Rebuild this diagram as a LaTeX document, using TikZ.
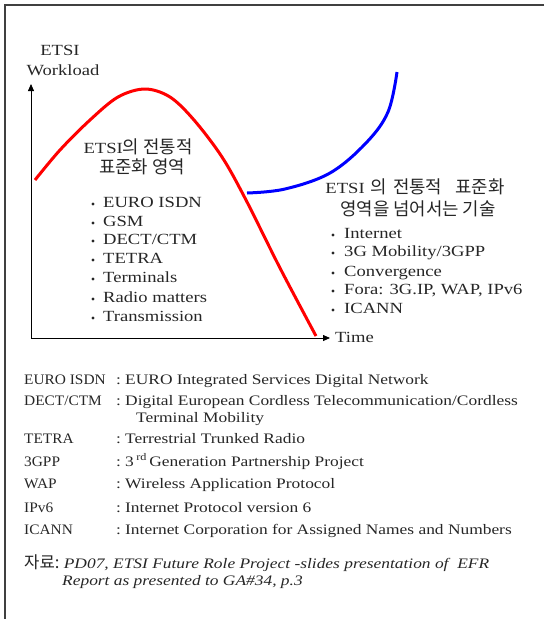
\documentclass[tikz,border=0pt]{standalone}
\usepackage{fontspec}
\setmainfont{Liberation Serif}[FakeStretch=1.2]
\newfontfamily\capsf{Liberation Serif}[FakeStretch=1.06]
\newfontfamily\kr{Noto Sans CJK KR}[Scale=1.15]
\usetikzlibrary{arrows.meta}
\newcommand{\kor}[1]{{\kr #1}}
\begin{document}
\begin{tikzpicture}[x=1pt,y=-1pt,
  txt/.style={inner sep=0pt, text=black!85, font=\fontsize{15.5}{18}\selectfont},
  legtxt/.style={inner sep=0pt, anchor=base west, text=black!85, font=\fontsize{14.5}{17}\selectfont},
  legabbr/.style={legtxt, font=\fontsize{14.5}{17}\capsf},
  dot/.style={circle, fill=black!85, inner sep=0pt, minimum size=3.2pt},
  axis/.style={line width=0.8pt, -{Triangle[length=7pt,width=6pt]}},
  frame/.style={line width=1.2pt, draw=black!75},
  redcurve/.style={draw=red, line width=3pt},
  bluecurve/.style={draw=blue, line width=3pt}]
\useasboundingbox (0,0) rectangle (544,619);
\draw[frame] (544,5) -- (5,5) -- (5,619);

% axes
\coordinate (O) at (31,338);
\coordinate (Ytop) at (31,84);
\coordinate (Xend) at (330,338);
\draw[axis] (O) -- (Ytop);
\draw[axis] (O) -- (Xend);

% curves
\draw[redcurve] plot[smooth, tension=0.55] coordinates
  {(35,180) (60,150) (90,120) (118,97) (145,89) (170,97) (194,120) (222,157) (246,200) (280,268) (316,336)};
\draw[bluecurve] plot[smooth, tension=0.6] coordinates
  {(247,193) (285,189) (330,173) (366,143) (388,112) (397,72)};

% axis labels
\node[txt, anchor=base] (etsi) at (60,55) {ETSI};
\node[txt, anchor=base] (wl) at (63,75) {Workload};
\node[txt, anchor=base west] (time) at (335,342) {Time};

% titles
\node[txt, anchor=base] (t1a) at (138,153) {ETSI\kor{의 전통적}};
\node[txt, anchor=base] (t1b) at (142,173) {\kor{표준화 영역}};
\node[txt, anchor=base] (t2a) at (415,193) {ETSI\hspace{6pt}\kor{의}\hspace{6pt}\kor{전통적}\hspace{13pt}\kor{표준화}};
\node[txt, anchor=base] (t2b) at (418,215) {\kor{영역을 넘어서는 기술}};

% left list
\foreach \t/\y/\n in {EURO ISDN/202/1, GSM/221/2, {DECT/CTM}/239/3, TETRA/258/4,
   Terminals/277/5, Radio matters/297/6, Transmission/316/7}{
  \node[dot] (ld\n) at (93,{\y+2}) {};
  \node[txt, anchor=base west] (lt\n) at (103,{\y+5}) {\t};
}
% right list
\foreach \t/\y/\n in {Internet/233/1, {3G Mobility/3GPP}/251/2, Convergence/271/3,
   {Fora: 3G.IP, WAP, IPv6}/289/4, ICANN/308/5}{
  \node[dot] (rd\n) at (333,{\y+2}) {};
  \node[txt, anchor=base west] (rt\n) at (344,{\y+5}) {\t};
}

% legend
\foreach \a/\y/\n in {EURO ISDN/384/1, {DECT/CTM}/405/2, TETRA/443/3, 3GPP/466/4,
   WAP/488/5, IPv6/512/6, ICANN/534/7}{
  \node[legabbr] (ga\n) at (24,\y) {\a};
  \node[legtxt] (gc\n) at (116,\y) {:};
}
\node[legtxt] (gd1) at (125,384) {EURO Integrated Services Digital Network};
\node[legtxt] (gd2) at (125,405) {Digital European Cordless Telecommunication/Cordless};
\node[legtxt] (gd2b) at (136,422) {Terminal Mobility};
\node[legtxt] (gd3) at (125,443) {Terrestrial Trunked Radio};
\node[legtxt] (gd4) at (125,466) {3\,\textsuperscript{rd}\,Generation Partnership Project};
\node[legtxt] (gd5) at (125,488) {Wireless Application Protocol};
\node[legtxt] (gd6) at (125,512) {Internet Protocol version 6};
\node[legtxt] (gd7) at (125,534) {Internet Corporation for Assigned Names and Numbers};

% source
\node[legtxt] (src) at (24,568) {\kor{자료:}\ \textit{PD07, ETSI Future Role Project -slides presentation of\ \ EFR}};
\node[legtxt] (src2) at (62,585) {\textit{Report as presented to GA\#34, p.3}};
\end{tikzpicture}
\end{document}
